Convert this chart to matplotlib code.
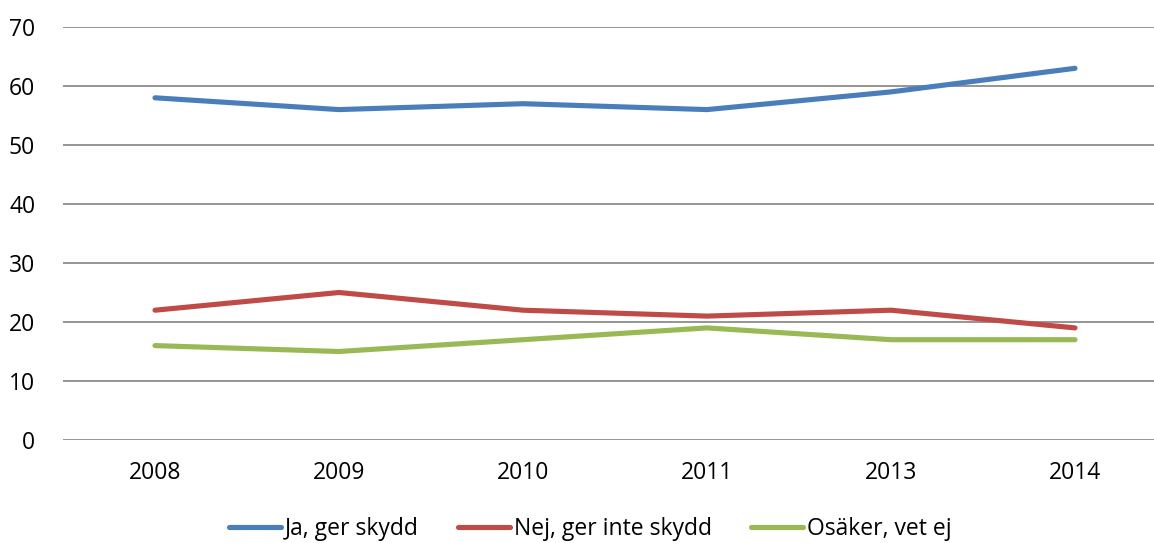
import numpy as np
import matplotlib
matplotlib.use('Agg')
import matplotlib.pyplot as plt

plt.rcParams['font.family'] = ['Open Sans', 'DejaVu Sans']

years = ['2008', '2009', '2010', '2011', '2013', '2014']
ja = [58, 56, 57, 56, 59, 63]
nej = [22, 25, 22, 21, 22, 19]
osaker = [16, 15, 17, 19, 17, 17]
labels = ['Ja, ger skydd', 'Nej, ger inte skydd', 'Osäker, vet ej']
colors = ['#4A7EBB', '#BE4B48', '#98B954']

W, H = 1154, 543
fig = plt.figure(figsize=(W / 100, H / 100), dpi=100)
ax = fig.add_axes([63 / W, (H - 440) / H, 1104 / W, 413 / H])

x = np.arange(len(years))
for vals, lab, col in zip([ja, nej, osaker], labels, colors):
    ax.plot(x, vals, color=col, lw=3.7, label=lab, solid_capstyle='round')

ax.set_xlim(-0.5, len(years) - 0.5)
ax.set_ylim(0, 70)
ax.set_yticks(range(0, 71, 10))
ax.set_xticks(x)
ax.set_xticklabels(years)
ax.yaxis.grid(True, color='#8C8C8C', lw=1.3)
ax.set_axisbelow(True)
for s in ax.spines.values():
    s.set_visible(False)
ax.tick_params(axis='both', length=0, labelsize=16.5, colors='black')
ax.tick_params(axis='y', pad=20)
ax.tick_params(axis='x', pad=15)

fig.legend(loc='lower center', bbox_to_anchor=(590 / W, -0.035), ncol=3, frameon=False,
           fontsize=16.5, handlelength=2.3, handletextpad=0.15, columnspacing=1.7)

fig.savefig('out.png', dpi=100)
